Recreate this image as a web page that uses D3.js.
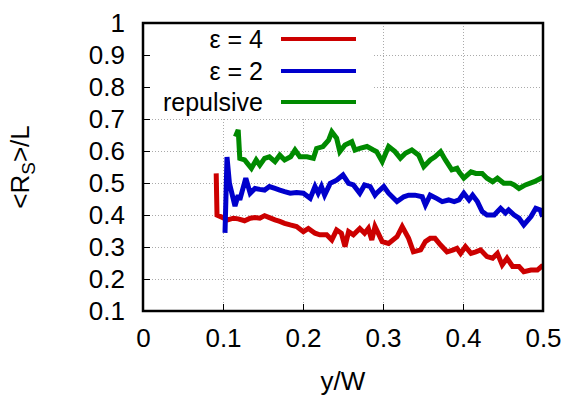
<!DOCTYPE html>
<html><head><meta charset="utf-8">
<script src="https://cdn.jsdelivr.net/npm/d3@7"></script>
<style>body{margin:0;background:#fff}svg{display:block}text{font-family:"Liberation Sans",Arial,Helvetica,sans-serif}</style>
</head><body>
<svg id="c" width="568" height="399"></svg>
<script>
const seriesNames = ["ε = 4", "ε = 2", "repulsive"];
const seriesColors = ["#cc0000", "#0000cc", "#008a00"];
const xTicks = [0, 0.1, 0.2, 0.3, 0.4, 0.5];
const yTicks = [0.1, 0.2, 0.3, 0.4, 0.5, 0.6, 0.7, 0.8, 0.9, 1];
const yTickLabels = ["0.1","0.2","0.3","0.4","0.5","0.6","0.7","0.8","0.9","1"];
const xTickLabels = ["0","0.1","0.2","0.3","0.4","0.5"];

const redX = [0.0915,0.0925,0.097,0.106,0.113,0.119,0.127,0.134,0.140,0.146,0.152,0.158,0.165,0.171,0.177,0.184,0.192,0.2005,0.2067,0.215,0.221,0.2296,0.236,0.242,0.248,0.2525,0.257,0.263,0.271,0.277,0.2817,0.286,0.290,0.299,0.307,0.3175,0.324,0.332,0.338,0.347,0.353,0.359,0.365,0.372,0.380,0.388,0.3925,0.397,0.403,0.410,0.416,0.422,0.430,0.437,0.443,0.449,0.455,0.462,0.470,0.476,0.485,0.493,0.498,0.500];
const redY = [0.530,0.400,0.395,0.385,0.390,0.388,0.382,0.390,0.392,0.390,0.398,0.392,0.385,0.380,0.374,0.369,0.364,0.348,0.358,0.343,0.338,0.338,0.322,0.353,0.343,0.301,0.348,0.338,0.358,0.343,0.358,0.322,0.364,0.317,0.311,0.332,0.364,0.327,0.285,0.291,0.317,0.327,0.327,0.306,0.285,0.291,0.296,0.280,0.301,0.280,0.285,0.291,0.270,0.265,0.280,0.244,0.265,0.239,0.239,0.223,0.228,0.228,0.239,0.236];

const blueX = [0.1025,0.105,0.108,0.115,0.119,0.121,0.1285,0.134,0.140,0.146,0.152,0.158,0.165,0.171,0.177,0.184,0.192,0.2005,0.209,0.215,0.219,0.223,0.227,0.234,0.242,0.250,0.257,0.263,0.271,0.277,0.284,0.290,0.292,0.301,0.307,0.3175,0.326,0.332,0.340,0.349,0.353,0.359,0.367,0.374,0.382,0.389,0.395,0.401,0.4075,0.412,0.418,0.424,0.430,0.439,0.447,0.453,0.457,0.464,0.470,0.476,0.485,0.491,0.4965,0.4995];
const blueY = [0.344,0.581,0.500,0.428,0.462,0.447,0.515,0.468,0.483,0.480,0.478,0.489,0.483,0.478,0.473,0.468,0.470,0.468,0.452,0.489,0.468,0.489,0.462,0.499,0.509,0.525,0.499,0.494,0.468,0.494,0.489,0.462,0.468,0.489,0.468,0.442,0.457,0.462,0.462,0.457,0.431,0.462,0.452,0.442,0.447,0.442,0.447,0.468,0.447,0.462,0.442,0.411,0.400,0.400,0.421,0.406,0.416,0.400,0.390,0.369,0.395,0.421,0.416,0.395];

const greenX = [0.1155,0.119,0.121,0.127,0.1355,0.1415,0.146,0.152,0.158,0.165,0.171,0.177,0.1845,0.190,0.196,0.205,0.213,0.217,0.225,0.232,0.236,0.242,0.246,0.2525,0.261,0.265,0.271,0.280,0.288,0.292,0.299,0.307,0.315,0.3217,0.328,0.336,0.3446,0.351,0.359,0.365,0.372,0.378,0.386,0.3925,0.395,0.401,0.410,0.416,0.424,0.430,0.437,0.443,0.451,0.4595,0.464,0.470,0.478,0.489,0.4975,0.500];
const greenY = [0.645,0.666,0.577,0.572,0.546,0.572,0.556,0.577,0.582,0.567,0.587,0.572,0.582,0.603,0.582,0.582,0.577,0.608,0.614,0.634,0.660,0.640,0.598,0.619,0.629,0.603,0.608,0.614,0.603,0.598,0.567,0.614,0.598,0.577,0.593,0.603,0.587,0.551,0.572,0.582,0.598,0.572,0.541,0.546,0.535,0.515,0.535,0.530,0.530,0.515,0.504,0.515,0.499,0.499,0.494,0.483,0.494,0.504,0.515,0.518];

const svg = d3.select("#c");
const L = 143, R = 543, T = 23, B = 311;
const x = d3.scaleLinear().domain([0, 0.5]).range([L, R]);
const y = d3.scaleLinear().domain([0.1, 1]).range([B, T]);

// grid
const grid = svg.append("g").attr("stroke", "#aaa").attr("stroke-width", 1).attr("stroke-dasharray", "1,2");
yTicks.filter(v => v > 0.1 && v < 1).forEach(v => {
  grid.append("line").attr("x1", L).attr("x2", R).attr("y1", Math.round(y(v)) + 0.5).attr("y2", Math.round(y(v)) + 0.5);
});
xTicks.filter(v => v > 0 && v < 0.5).forEach(v => {
  grid.append("line").attr("x1", Math.round(x(v)) + 0.5).attr("x2", Math.round(x(v)) + 0.5).attr("y1", T).attr("y2", B);
});
// legend box (opaque)
svg.append("rect").attr("x", L).attr("y", T).attr("width", 230).attr("height", 94).attr("fill", "#fff");

// axes
const yAxis = d3.axisLeft(y).tickValues(yTicks).tickFormat((d, i) => yTickLabels[i]).tickSizeInner(-7).tickSizeOuter(0).tickPadding(18);
const gy = svg.append("g").attr("transform", `translate(${L},0)`).call(yAxis);
gy.select(".domain").remove();
gy.selectAll("line").attr("stroke", "#000").attr("stroke-width", 1);
gy.selectAll("text").attr("font-size", 26).attr("fill", "#000").attr("font-family", "Liberation Sans, Arial, sans-serif");

const xAxis = d3.axisBottom(x).tickValues(xTicks).tickFormat((d, i) => xTickLabels[i]).tickSizeInner(-7).tickSizeOuter(0).tickPadding(18);
const gx = svg.append("g").attr("transform", `translate(0,${B})`).call(xAxis);
gx.select(".domain").remove();
gx.selectAll("line").attr("stroke", "#000").attr("stroke-width", 1);
gx.selectAll("text").attr("font-size", 26).attr("fill", "#000").attr("font-family", "Liberation Sans, Arial, sans-serif");

// series
const line = d3.line().x(d => x(d[0])).y(d => y(d[1]));
const data = [d3.zip(redX, redY), d3.zip(blueX, blueY), d3.zip(greenX, greenY)];
svg.append("clipPath").attr("id", "pc").append("rect").attr("x", L).attr("y", T).attr("width", R - L).attr("height", B - T);
data.forEach((d, i) => {
  svg.append("path").datum(d).attr("d", line).attr("fill", "none").attr("stroke", seriesColors[i])
    .attr("stroke-width", 5).attr("stroke-linejoin", "miter").attr("stroke-miterlimit", 3).attr("clip-path", "url(#pc)");
});

// frame
svg.append("rect").attr("x", L).attr("y", T).attr("width", R - L).attr("height", B - T)
  .attr("fill", "none").attr("stroke", "#000").attr("stroke-width", 2.5);

// legend
const legY = [39, 71, 102];
seriesNames.forEach((n, i) => {
  svg.append("text").attr("x", 263).attr("y", legY[i]).attr("dy", "0.35em").attr("text-anchor", "end")
    .attr("font-size", 25).attr("fill", "#000").text(n);
  svg.append("line").attr("x1", 281).attr("x2", 356).attr("y1", legY[i]).attr("y2", legY[i])
    .attr("stroke", seriesColors[i]).attr("stroke-width", 4);
});

// axis labels
svg.append("text").attr("x", (L + R) / 2).attr("y", 390).attr("text-anchor", "middle").attr("font-size", 26).attr("fill", "#000").text("y/W");
const yl = svg.append("text").attr("transform", `translate(29,${(T + B) / 2}) rotate(-90)`).attr("text-anchor", "middle").attr("font-size", 26).attr("fill", "#000");
yl.append("tspan").text("<R");
yl.append("tspan").attr("font-size", 19).attr("dy", 6).text("S");
yl.append("tspan").attr("dy", -6).text(">/L");
</script>
</body></html>
